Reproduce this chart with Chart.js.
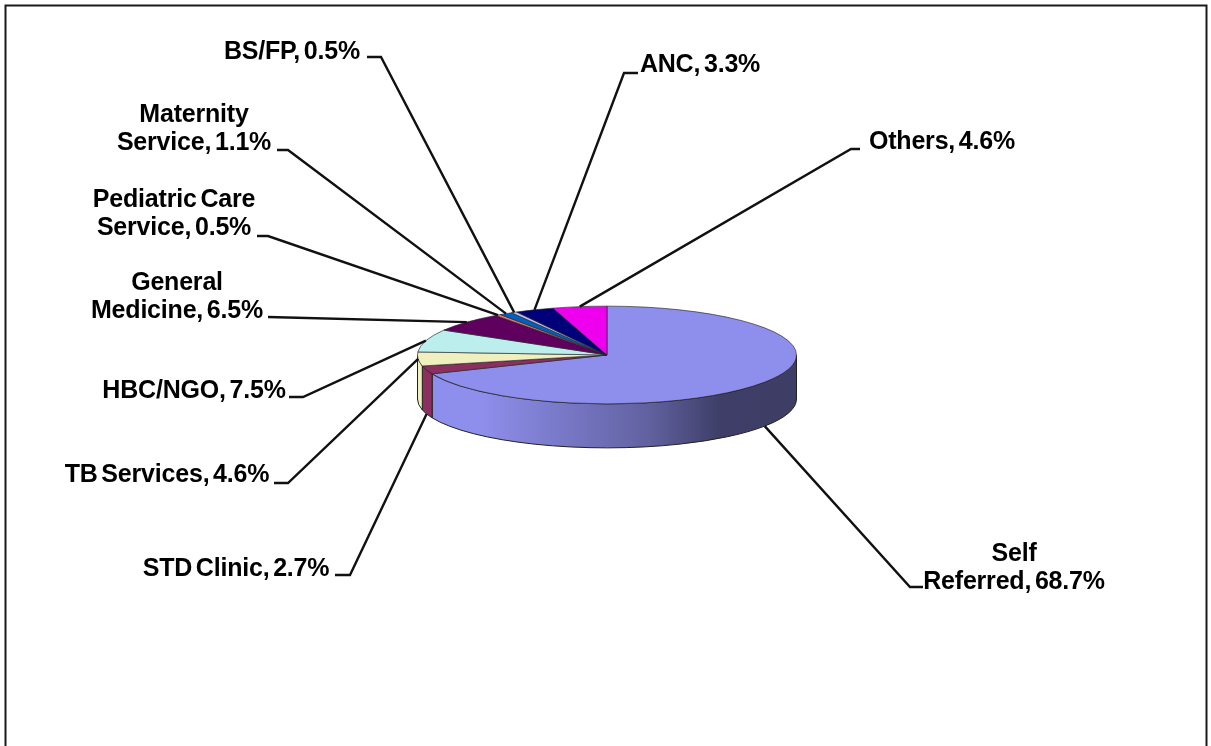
<!DOCTYPE html>
<html><head><meta charset="utf-8">
<style>html,body{margin:0;padding:0;background:#fff}canvas{display:block}</style>
<script src="https://cdn.jsdelivr.net/npm/chart.js@4"></script>
</head><body><canvas id="c" width="1211" height="746"></canvas>
<script>
const categories = ["Self Referred","STD Clinic","TB Services","HBC/NGO","General Medicine","Pediatric Care Service","Maternity Service","BS/FP","ANC","Others"];
const shares = [68.7,2.7,4.6,7.5,6.5,0.5,1.1,0.5,3.3,4.6];
const sliceColors = ["#8E8EEC","#8B2F5F","#EFEFBF","#BDEEEE","#5F005F","#EE7777","#0060BF","#BFBFEE","#000078","#EE00EE"];
const wordsOnFirstLine = [1,0,0,0,1,2,1,0,0,0];
// label placement: text centre x, y of last line, elbow of leader, start of leader
const labelX = [1014,236,167,194,177,174,194,292,700,942];
const labelY = [582,569,475,391,311,228,143,52,65,142];
const leaderStartX = [923,335,274,289,268,257,277,367,638,860];
const leaderElbowX = [910,350,288,303,268,268,288,381,624,851];
const leaderY = [587,575,483,397,317,236,150,57,73,149];

const CX=607, CY=355, SQUASH=49/190, DEPTH=44;
const FONT='bold 25px "Liberation Sans", Arial, sans-serif';

function shade(hex,f){const n=parseInt(hex.slice(1),16);
  return `rgb(${Math.round((n>>16&255)*f)},${Math.round((n>>8&255)*f)},${Math.round((n&255)*f)})`;}

const pie3d={id:'pie3d',
  beforeDraw(ch){const c=ch.ctx;c.save();c.fillStyle='#fff';c.fillRect(0,0,ch.width,ch.height);
    c.strokeStyle='#1a1a1a';c.lineWidth=2;c.strokeRect(5.5,5.5,1201,800);c.restore();},
  beforeDatasetsDraw(ch){
    const c=ch.ctx, arcs=ch.getDatasetMeta(0).data;
    arcs.forEach((a,i)=>{
      const {startAngle:s,endAngle:e,outerRadius:r}=a.getProps(['startAngle','endAngle','outerRadius'],true);
      const lo=Math.max(s,0), hi=Math.min(e,Math.PI);
      if(hi<=lo) return;
      const ry=r*SQUASH;
      c.save();
      c.beginPath();
      c.ellipse(CX,CY,r,ry,0,lo,hi);
      c.ellipse(CX,CY+DEPTH,r,ry,0,hi,lo,true);
      c.closePath();
      const g=c.createLinearGradient(CX-r,0,CX+r,0), col=sliceColors[i];
      g.addColorStop(0,shade(col,1));g.addColorStop(.17,shade(col,1));
      g.addColorStop(.61,shade(col,.68));g.addColorStop(.8,shade(col,.44));g.addColorStop(1,shade(col,.43));
      c.fillStyle=g;c.fill();
      c.strokeStyle='#222';c.lineWidth=1;c.stroke();
      c.restore();
    });
    c.save();
    const m=ch.chartArea, y0=(m.top+m.bottom)/2, x0=(m.left+m.right)/2;
    c.translate(CX,CY);c.scale(1,SQUASH);c.translate(-x0,-y0);
  },
  afterDatasetsDraw(ch){
    const c=ch.ctx; c.restore();
    const arcs=ch.getDatasetMeta(0).data;
    c.save();
    c.strokeStyle='#111';c.lineWidth=2.4;c.fillStyle='#000';
    c.font=FONT;c.textAlign='center';c.textBaseline='middle';
    c.wordSpacing='-3px';c.letterSpacing='-0.2px';
    arcs.forEach((a,i)=>{
      const {startAngle:s,endAngle:e,outerRadius:r}=a.getProps(['startAngle','endAngle','outerRadius'],true);
      const mid=(s+e)/2, sn=Math.sin(mid);
      const ex=CX+r*Math.cos(mid), ey=CY+r*SQUASH*sn+(sn>.2?DEPTH:0);
      c.beginPath();
      c.moveTo(leaderStartX[i],leaderY[i]);c.lineTo(leaderElbowX[i],leaderY[i]);c.lineTo(ex,ey);c.stroke();
      const words=categories[i].split(' '), n=wordsOnFirstLine[i];
      const tail=words.slice(n).join(' ')+', '+shares[i].toFixed(1)+'%';
      c.fillText(tail,labelX[i],labelY[i]);
      if(n) c.fillText(words.slice(0,n).join(' '),labelX[i],labelY[i]-28);
    });
    c.restore();
  }
};

new Chart(document.getElementById('c'),{
  type:'pie',
  data:{labels:categories,datasets:[{data:shares,backgroundColor:sliceColors,borderColor:'#222',borderWidth:1,clip:false}]},
  options:{responsive:false,animation:false,
    layout:{padding:{left:417,right:414,top:183,bottom:183}},
    plugins:{legend:{display:false},title:{display:false},tooltip:{enabled:false}}},
  plugins:[pie3d]
});
</script></body></html>
